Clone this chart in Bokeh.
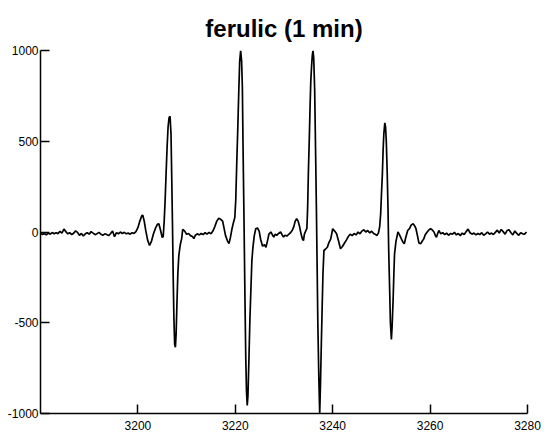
from bokeh.plotting import figure
from bokeh.models import FixedTicker, Range1d
from bokeh.embed import file_html
from bokeh.resources import INLINE

# Magnetic field (G) and first-derivative EPR signal, segment by segment
base_left_G = [3180.0, 3180.4, 3180.8, 3181.2, 3181.6, 3182.0, 3182.4, 3182.8, 3183.2, 3183.6,
               3184.0, 3184.4, 3184.8, 3185.2, 3185.6, 3186.0, 3186.4, 3186.8, 3187.2, 3187.6,
               3188.0, 3188.4, 3188.8, 3189.2, 3189.6, 3190.0, 3190.4, 3190.8, 3191.2, 3191.6,
               3192.0, 3192.4, 3192.8, 3193.2, 3193.6, 3194.0, 3194.4, 3194.8, 3195.2, 3195.6,
               3196.0, 3196.4, 3196.8, 3197.2, 3197.6, 3198.0, 3198.4, 3198.8, 3199.2, 3199.6,
               3200.0, 3200.4]
base_left = [-5, -14, -8, -16, -6, -12, -3, -10, -4, -9,
             4, -6, 16, 2, -10, -4, -14, -7, 6, -2,
             -18, -8, -22, -10, -4, -12, 2, -6, -15, -9,
             -2, -12, -18, -10, -14, -20, -8, 6, -26, -4,
             -10, 0, -8, -2, -10, -6, -12, -4, -8, 2,
             24, 60]

line1_G = [3200.8, 3201.0, 3201.3, 3201.6, 3202.0, 3202.4, 3202.8, 3203.2, 3203.6, 3204.0,
           3204.3, 3204.6, 3205.0, 3205.2, 3205.4, 3205.6, 3205.8, 3206.0, 3206.2, 3206.4,
           3206.6, 3206.8, 3206.95, 3207.1, 3207.25, 3207.4, 3207.55, 3207.7, 3207.85, 3208.0,
           3208.2, 3208.4, 3208.7, 3209.0, 3209.2, 3209.6]
line1 = [90, 92, 60, 10, -45, -74, -50, -10, 20, 42,
         45, 15, -30, -25, 60, 180, 330, 470, 580, 630,
         638, 540, 300, 45, -250, -480, -620, -635, -560, -410,
         -230, -130, -70, -35, 15, 5]

gap12_G = [3210.0, 3210.4, 3210.8, 3211.2, 3211.5, 3211.8, 3212.2, 3212.6, 3213.0, 3213.4,
           3213.8, 3214.2, 3214.6, 3215.0, 3215.4, 3215.8, 3216.2, 3216.6, 3217.0, 3217.4,
           3217.7, 3218.0, 3218.4, 3218.7, 3219.0, 3219.3, 3219.6]
gap12 = [-12, -8, -20, -25, -36, -18, -10, -16, -8, -14,
         -4, -12, -2, -10, 5, 30, 60, 76, 70, 60,
         20, -20, -50, -63, -30, 15, 50]

line2_G = [3219.9, 3220.1, 3220.3, 3220.5, 3220.7, 3220.9, 3221.1, 3221.3, 3221.45, 3221.6,
           3221.8, 3222.0, 3222.15, 3222.3, 3222.45, 3222.6, 3222.8, 3223.0, 3223.2, 3223.4,
           3223.6, 3223.9, 3224.2, 3224.55, 3224.9, 3225.2, 3225.6, 3226.0, 3226.3, 3226.6,
           3226.9]
line2 = [80, 180, 380, 560, 760, 940, 1000, 940, 800, 450,
         40, -400, -690, -880, -956, -900, -700, -480, -320, -160,
         -90, -20, 18, 22, 5, -40, -78, -70, -84, -50,
         -12]

gap23_G = [3227.3, 3227.6, 3227.9, 3228.2, 3228.5, 3228.9, 3229.3, 3229.6, 3229.9, 3230.2,
           3230.6, 3230.9, 3231.3, 3231.7, 3232.0, 3232.3, 3232.6, 3232.9, 3233.2, 3233.5,
           3233.8, 3234.0, 3234.2]
gap23 = [0, -15, -28, -12, -18, -8, 0, -15, -28, -18,
         -22, -15, -5, 10, 28, 60, 73, 60, 30, -10,
         -40, -47, -10]

line3_G = [3234.7, 3234.85, 3235.0, 3235.2, 3235.35, 3235.5, 3235.65, 3235.8, 3235.95, 3236.1,
           3236.3, 3236.5, 3236.65, 3236.8, 3236.95, 3237.15, 3237.33, 3237.5, 3237.68, 3237.85,
           3238.0, 3238.2, 3238.5, 3238.9, 3239.2, 3239.6]
line3 = [20, 130, 320, 520, 688, 830, 908, 970, 1000, 960,
         780, 420, 137, -180, -506, -800, -1000, -830, -598, -400,
         -230, -102, -95, -84, -60, -38]

gap34_G = [3240.0, 3240.4, 3240.8, 3241.2, 3241.6, 3242.0, 3242.4, 3242.8, 3243.2, 3243.6,
           3244.0, 3244.4, 3244.8, 3245.2, 3245.6, 3246.0, 3246.4, 3246.8, 3247.2, 3247.6,
           3248.0, 3248.4, 3248.8, 3249.1, 3249.4]
gap34 = [18, 5, -10, -50, -92, -80, -62, -45, -25, -12,
         -20, -8, -16, 0, -10, 5, 12, 0, 8, -5,
         4, -8, -14, -19, -5]

line4_G = [3249.65, 3249.85, 3250.0, 3250.2, 3250.35, 3250.5, 3250.7, 3250.85, 3251.0, 3251.2,
           3251.35, 3251.5, 3251.7, 3251.85, 3252.05, 3252.2, 3252.4, 3252.55, 3252.7, 3253.0,
           3253.4]
line4 = [30, 100, 200, 320, 450, 541, 601, 580, 504, 320,
         137, -100, -322, -500, -592, -520, -377, -240, -120, -50,
         0]

tail4_G = [3253.7, 3254.1, 3254.4, 3254.7, 3255.0, 3255.4, 3255.8, 3256.1, 3256.5, 3256.8,
           3257.1, 3257.4, 3257.7, 3258.05, 3258.4, 3258.7, 3259.0, 3259.4, 3259.7, 3260.1,
           3260.5, 3260.8, 3261.1, 3261.3, 3261.6, 3261.8]
tail4 = [-15, -38, -55, -65, -30, 8, 20, 38, 45, 35,
         18, -20, -60, -65, -50, -38, -15, 0, 10, 18,
         10, 0, -20, -29, -5, 8]

base_right_G = [3262.2, 3262.6, 3263.0, 3263.4, 3263.8, 3264.2, 3264.6, 3265.0, 3265.4, 3265.8,
                3266.2, 3266.6, 3267.0, 3267.4, 3267.8, 3268.2, 3268.6, 3269.0, 3269.4, 3269.8,
                3270.2, 3270.6, 3271.0, 3271.4, 3271.8, 3272.2, 3272.6, 3273.0, 3273.4, 3273.8,
                3274.2, 3274.6, 3275.0, 3275.4, 3275.8, 3276.2, 3276.6, 3277.0, 3277.4, 3277.8,
                3278.2, 3278.6, 3279.0, 3279.4, 3279.8]
base_right = [-10, -4, -14, -6, -18, -8, -12, -2, -16, -8,
              -20, -6, -14, 2, 16, -4, -12, -6, -16, -8,
              -14, -4, -18, -10, 0, -12, -6, -14, -2, 10,
              -6, 14, 2, -12, 8, 12, -4, -16, 6, -8,
              -18, -4, -10, -12, 0]

x_ticks = [3200, 3220, 3240, 3260, 3280]
x_labels = ["3200", "3220", "3240", "3260", "3280"]
y_ticks = [-1000, -500, 0, 500, 1000]
y_labels = ["-1000", "-500", "0", "500", "1000"]

field = (base_left_G + line1_G + gap12_G + line2_G + gap23_G + line3_G
         + gap34_G + line4_G + tail4_G + base_right_G)
signal = (base_left + line1 + gap12 + line2 + gap23 + line3
          + gap34 + line4 + tail4 + base_right)

p = figure(width=545, height=438, output_backend="svg", toolbar_location=None,
           x_range=Range1d(3180, 3280), y_range=Range1d(-1000, 1000),
           min_border_left=40, min_border_right=18, min_border_top=50, min_border_bottom=25,
           title="ferulic (1 min)")

p.line(field, signal, line_color="black", line_width=1.7)

p.title.text_font = "Liberation Sans"
p.title.text_font_size = "24px"
p.title.text_font_style = "bold"
p.title.text_color = "black"
p.title.align = "center"
p.title.offset = -4
p.title.standoff = 17

p.outline_line_color = None
p.xgrid.visible = False
p.ygrid.visible = False
p.background_fill_color = "white"
p.border_fill_color = "white"

p.xaxis.ticker = FixedTicker(ticks=x_ticks)
p.yaxis.ticker = FixedTicker(ticks=y_ticks)
p.xaxis.major_label_overrides = dict(zip(x_ticks, x_labels))
p.yaxis.major_label_overrides = dict(zip(y_ticks, y_labels))

for ax in (p.xaxis, p.yaxis):
    ax.axis_line_color = "black"
    ax.axis_line_width = 1.5
    ax.major_tick_line_color = "black"
    ax.major_tick_line_width = 1.5
    ax.major_tick_in = 9
    ax.major_tick_out = 0
    ax.minor_tick_line_color = None
    ax.major_label_text_font = "Liberation Sans"
    ax.major_label_text_font_size = "12px"
    ax.major_label_text_color = "black"

p.xaxis.major_label_standoff = 7
p.yaxis.major_label_standoff = 2

open("out.html", "w").write(file_html(p, INLINE))
